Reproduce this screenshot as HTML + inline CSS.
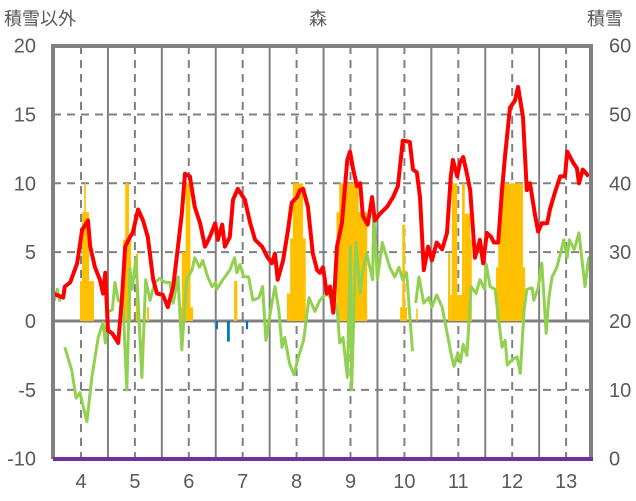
<!DOCTYPE html>
<html><head><meta charset="utf-8">
<style>
html,body{margin:0;padding:0;background:#fff;}
svg{display:block;font-family:"Liberation Sans","Noto Sans CJK JP",sans-serif;}
</style></head>
<body>
<svg id="chart" width="636" height="501" viewBox="0 0 636 501">
<g id="grid"></g>
<g id="bars"></g>
<g id="lines"></g>
<g id="frame"></g>
<g id="labels"></g>
<text x="4" y="25" font-size="18" fill="#595959">積雪以外</text>
<text x="318" y="25" font-size="18" fill="#595959" text-anchor="middle">森</text>
<text x="587" y="25" font-size="18" fill="#595959">積雪</text>
</svg>
<script>
const leftTicks=[20,15,10,5,0,-5,-10];
const rightTicks=[60,50,40,30,20,10,0];
const xTicks=[4,5,6,7,8,9,10,11,12,13];
const redX=[3.48,3.67,3.70,3.80,3.93,4.02,4.13,4.17,4.26,4.35,4.41,4.45,4.50,4.58,4.69,4.76,4.82,4.91,4.96,5.06,5.15,5.24,5.34,5.41,5.52,5.61,5.71,5.80,5.87,5.93,6.02,6.11,6.21,6.30,6.39,6.49,6.54,6.62,6.67,6.76,6.82,6.91,7.04,7.14,7.23,7.36,7.45,7.54,7.60,7.65,7.75,7.84,7.91,8.01,8.06,8.12,8.21,8.30,8.38,8.43,8.49,8.56,8.62,8.68,8.75,8.84,8.94,8.99,9.05,9.12,9.18,9.23,9.32,9.40,9.45,9.55,9.68,9.79,9.88,9.97,10.10,10.16,10.23,10.29,10.36,10.44,10.51,10.60,10.70,10.79,10.86,10.90,10.98,11.03,11.09,11.16,11.22,11.31,11.40,11.46,11.53,11.61,11.66,11.74,11.81,11.87,11.96,12.05,12.11,12.20,12.27,12.33,12.42,12.48,12.55,12.65,12.70,12.79,12.89,12.98,13.02,13.13,13.20,13.24,13.31,13.42];
const redY=[2.0,1.7,2.5,2.8,4.2,6.6,7.3,5.4,3.9,3.0,2.0,3.5,-0.7,-0.9,-1.6,1.7,5.4,6.1,6.4,8.1,7.3,6.1,3.0,2.0,1.9,1.0,2.5,5.4,7.8,10.7,10.5,8.3,7.1,5.4,6.1,7.1,5.9,7.0,5.4,6.1,8.8,9.6,8.8,7.1,5.9,5.4,4.7,4.2,4.9,3.0,4.4,6.6,8.6,9.0,9.5,9.6,8.3,4.9,3.7,3.5,3.9,2.0,2.5,0.6,5.4,7.1,11.7,12.3,11.0,9.8,10.0,7.6,7.0,9.0,7.3,7.8,8.3,9.0,9.8,13.1,13.0,11.0,10.8,9.0,3.7,5.4,4.4,5.7,5.2,6.4,10.5,11.7,10.5,11.5,11.9,10.7,9.5,4.6,5.9,4.2,6.4,6.1,5.7,5.7,9.5,12.1,15.5,16.0,17.0,14.8,9.5,10.0,7.8,6.5,7.1,7.1,8.1,9.3,10.5,10.5,12.3,11.5,11.1,10.0,11.0,10.5];
const greenX=[3.48,3.56,3.61,null,3.70,3.83,3.91,3.98,4.04,4.11,4.20,4.32,4.41,4.45,4.50,4.58,4.63,4.69,4.78,4.85,4.91,4.95,5.02,5.13,5.20,5.28,5.37,5.46,5.56,5.65,5.71,5.80,5.87,5.96,6.06,6.11,6.20,6.26,6.35,6.43,6.50,6.52,6.63,6.76,6.85,6.89,6.95,7.02,7.11,7.19,7.30,7.37,7.43,7.52,7.60,7.67,7.73,7.78,7.87,7.95,8.02,8.13,8.23,8.34,8.43,8.56,8.68,8.75,8.80,8.86,8.94,9.00,9.02,9.10,9.18,9.23,9.30,9.41,9.43,9.50,9.59,9.73,9.82,9.90,9.97,10.04,10.15,null,10.21,10.27,10.36,10.45,10.51,10.60,10.70,10.77,10.86,10.92,10.99,11.04,11.09,11.16,11.24,11.33,11.40,11.49,11.52,11.59,11.68,11.81,11.87,11.91,12.00,12.09,12.15,12.22,12.27,12.37,12.40,12.48,12.55,12.63,12.68,12.74,12.83,12.96,13.02,13.06,13.15,13.24,13.29,13.35,13.42,13.45];
const greenY=[1.2,2.3,1.4,null,-1.9,-3.6,-5.6,-5.2,-6.2,-7.3,-4.1,-1.2,-0.1,-1.6,0.7,0.8,2.8,1.5,1.3,-5.0,3.8,2.3,4.6,-4.1,3.0,1.5,2.8,3.1,2.8,2.8,1.3,3.2,-2.1,3.0,3.7,4.6,3.9,4.4,3.2,2.5,2.8,2.3,3.0,3.7,4.6,3.5,4.1,3.2,3.2,1.5,1.7,2.5,-1.4,0.8,2.5,0.8,-1.9,-1.2,-3.1,-3.9,-2.8,-1.4,1.7,0.7,1.5,2.0,1.5,1.0,-1.6,-1.2,-4.1,5.4,-5.0,5.7,2.0,3.7,4.9,3.0,7.8,3.0,5.7,3.9,3.2,3.9,3.0,3.5,-2.2,null,1.3,3.2,1.3,1.7,1.0,1.9,1.0,-0.4,-2.3,-3.3,-2.3,-3.0,-1.7,-2.5,2.5,2.0,3.0,2.3,4.1,2.5,2.3,-1.9,-1.4,-3.2,-2.8,-2.6,-3.8,0.8,2.3,2.4,1.5,2.4,4.2,-0.9,1.7,3.2,3.9,5.9,4.6,5.9,5.2,6.4,4.6,2.5,4.6,3.7];
const barStart=[3.98,4.02,4.06,4.78,4.82,5.02,5.22,5.84,5.87,5.94,6.50,6.71,6.84,7.06,7.47,7.82,7.88,7.93,8.74,8.79,9.06,9.10,9.92,9.96,10.22,10.81,10.85,10.88,11.07,11.12,11.20,11.70,11.74,11.77];
const barEnd=[4.24,4.15,4.09,4.93,4.89,5.06,5.26,6.08,6.03,6.03,6.54,6.76,6.90,7.10,7.50,7.88,8.17,8.12,9.31,9.15,9.12,9.21,10.05,10.01,10.24,10.85,11.25,10.98,11.12,11.22,11.25,12.24,11.83,12.20];
const barVal=[2.9,7.9,10,5.9,10,4.9,1.0,1.0,5.0,10,-0.6,-1.5,2.9,-0.6,-0.2,2.0,6.0,10,7.9,10,7.3,5.9,1.0,7.0,0.9,4.9,1.9,10,10,7.8,5.9,3.9,5.9,10];

const L=53,R=591,T=46,B=459;
const xs=v=>81+(v-4)*53.9;
const ys=v=>321-v*13.77;
const NS='http://www.w3.org/2000/svg';
function mk(tag,attrs,parent){const e=document.createElementNS(NS,tag);for(const k in attrs)e.setAttribute(k,attrs[k]);parent.appendChild(e);return e;}
const grid=document.getElementById('grid'),bars=document.getElementById('bars'),lines=document.getElementById('lines'),frame=document.getElementById('frame'),labels=document.getElementById('labels');

leftTicks.forEach(v=>{
  if(v===20||v===-10)return;
  const y=ys(v);
  const g=mk('line',{x1:L,x2:R,y1:y,y2:y,stroke:'#808080','stroke-width':v===0?3:2,'stroke-dasharray':v===0?'none':'8,6'},grid);
  
  
});
for(let yr=3.5;yr<=13.5;yr+=0.5){
  const x=xs(yr);if(x<=L+2||x>=R-2)continue;
  const isInt=Math.abs(yr-Math.round(yr))<0.01;
  const g=mk('line',{x1:x,x2:x,y1:T,y2:B,stroke:'#808080','stroke-width':2,'stroke-dasharray':isInt?'8,6':'none'},grid);
  
  
}
barVal.forEach((v,i)=>{
  const x1=xs(barStart[i]),x2=xs(barEnd[i]);
  const y=Math.min(ys(v),ys(0)),h=Math.abs(ys(v)-ys(0));
  const r=mk('rect',{x:x1,y:y,width:Math.max(x2-x1,1.5),height:h,fill:v<0?'#0070c0':'#ffc000'},bars);
  
  
});
function path(X,Y){let d='',pen=false;for(let i=0;i<X.length;i++){if(X[i]===null){pen=false;continue;}d+=(pen?'L':'M')+xs(X[i]).toFixed(1)+','+ys(Y[i]).toFixed(1);pen=true;}return d;}
const gp=mk('path',{d:path(greenX,greenY),fill:'none',stroke:'#92d050','stroke-width':3,'stroke-linejoin':'round'},lines);


const rp=mk('path',{d:path(redX,redY),fill:'none',stroke:'#ff0000','stroke-width':4,'stroke-linejoin':'round'},lines);



const f1=mk('polyline',{points:`${L},${B} ${L},${T} ${R},${T} ${R},${B}`,fill:'none',stroke:'#808080','stroke-width':4},frame);


const f2=mk('line',{x1:L,x2:R+2,y1:B,y2:B,stroke:'#7030a0','stroke-width':4},frame);



leftTicks.forEach(v=>{
  const t=mk('text',{x:36,y:ys(v)+7,'font-size':20,fill:'#595959','text-anchor':'end'},labels);
  t.textContent=v;
  
  
});
rightTicks.forEach((v,i)=>{
  const t=mk('text',{x:609,y:ys(leftTicks[i])+7,'font-size':20,fill:'#595959','text-anchor':'start'},labels);
  t.textContent=v;
  
  
});
xTicks.forEach(v=>{
  const t=mk('text',{x:xs(v),y:488,'font-size':20,fill:'#595959','text-anchor':'middle'},labels);
  t.textContent=v;
  
  
});
</script>
</body></html>
